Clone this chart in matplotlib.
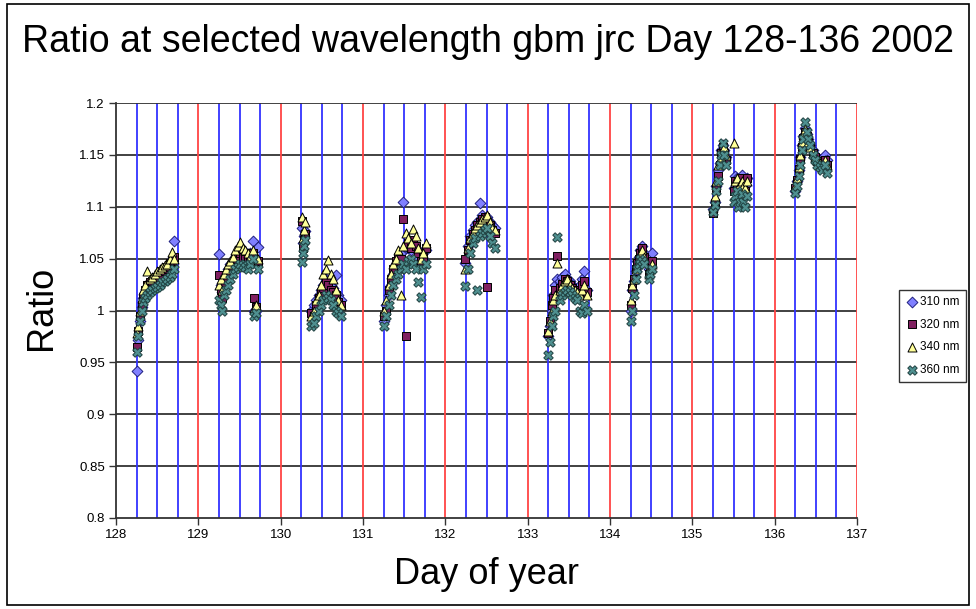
import matplotlib
matplotlib.use("Agg")
import matplotlib.pyplot as plt
from matplotlib.patches import Rectangle

plt.rcParams['font.family'] = ['Liberation Sans', 'DejaVu Sans']

# ---------------- data ----------------
day_128 = [128.25, 128.27, 128.29, 128.31, 128.33, 128.35, 128.38, 128.41, 128.44, 128.47,
           128.50, 128.53, 128.56, 128.59, 128.62, 128.65, 128.68, 128.71]
day_129 = [129.25, 129.27, 129.29, 129.31, 129.33, 129.36, 129.39, 129.42, 129.45, 129.48,
           129.51, 129.54, 129.57, 129.60, 129.63, 129.66, 129.68, 129.70, 129.72]
day_130 = [130.26, 130.27, 130.28, 130.29, 130.37, 130.40, 130.43, 130.46, 130.49, 130.52,
           130.55, 130.58, 130.61, 130.64, 130.67, 130.70, 130.73]
day_131 = [131.25, 131.28, 131.31, 131.34, 131.37, 131.40, 131.43, 131.46, 131.49, 131.52,
           131.55, 131.58, 131.61, 131.64, 131.67, 131.70, 131.73, 131.76]
day_132 = [132.24, 132.27, 132.30, 132.33, 132.36, 132.39, 132.42, 132.45, 132.48, 132.51,
           132.54, 132.57, 132.60]
day_133 = [133.25, 133.27, 133.29, 133.31, 133.33, 133.36, 133.39, 133.42, 133.45, 133.48,
           133.51, 133.54, 133.57, 133.60, 133.63, 133.66, 133.69, 133.72]
day_134 = [134.25, 134.27, 134.29, 134.31, 134.33, 134.35, 134.37, 134.39, 134.41, 134.47,
           134.49, 134.51]
day_135 = [135.25, 135.27, 135.29, 135.31, 135.33, 135.35, 135.37, 135.39, 135.41, 135.50,
           135.52, 135.54, 135.56, 135.58, 135.60, 135.62, 135.64, 135.66]
day_136 = [136.25, 136.27, 136.29, 136.31, 136.33, 136.35, 136.37, 136.39, 136.41, 136.43,
           136.46, 136.49, 136.52, 136.55, 136.58, 136.61, 136.64]
day_of_year = day_128 + day_129 + day_130 + day_131 + day_132 + day_133 + day_134 + day_135 + day_136

ratio_310 = [
    0.942, 0.972, 0.990, 1.003, 1.012, 1.018, 1.022, 1.024, 1.026, 1.028, 1.030, 1.032, 1.035, 1.038, 1.040, 1.045, 1.050, 1.067,
    1.054, 1.025, 1.018, 1.028, 1.035, 1.040, 1.045, 1.048, 1.052, 1.055, 1.060, 1.058, 1.055, 1.050, 1.055, 1.067, 1.000, 1.000, 1.061,
    1.080, 1.065, 1.072, 1.077, 1.000, 1.005, 1.010, 1.015, 1.020, 1.025, 1.030, 1.028, 1.025, 1.022, 1.034, 1.015, 1.010,
    0.990, 1.005, 1.015, 1.025, 1.035, 1.045, 1.050, 1.055, 1.105, 1.060, 1.060, 1.058, 1.065, 1.060, 1.050, 1.045, 1.050, 1.058,
    1.046, 1.062, 1.072, 1.078, 1.082, 1.085, 1.104, 1.092, 1.088, 1.090, 1.085, 1.082, 1.080,
    0.975, 0.985, 1.000, 1.015, 1.025, 1.030, 1.028, 1.032, 1.035, 1.030, 1.028, 1.025, 1.022, 1.020, 1.025, 1.030, 1.038, 1.020,
    1.000, 1.020, 1.028, 1.038, 1.048, 1.052, 1.058, 1.062, 1.055, 1.040, 1.045, 1.055,
    1.098, 1.105, 1.120, 1.135, 1.142, 1.155, 1.160, 1.155, 1.148, 1.118, 1.130, 1.128, 1.120, 1.125, 1.131, 1.125, 1.120, 1.128,
    1.115, 1.125, 1.135, 1.148, 1.160, 1.168, 1.176, 1.170, 1.165, 1.160, 1.155, 1.150, 1.148, 1.145, 1.142, 1.150, 1.145,
]
ratio_320 = [
    0.965, 0.980, 0.995, 1.005, 1.013, 1.020, 1.025, 1.027, 1.028, 1.030, 1.032, 1.035, 1.038, 1.040, 1.042, 1.046, 1.048, 1.052,
    1.034, 1.020, 1.012, 1.025, 1.030, 1.036, 1.040, 1.045, 1.050, 1.052, 1.055, 1.052, 1.050, 1.048, 1.050, 1.055, 1.012, 1.003, 1.048,
    1.086, 1.060, 1.068, 1.074, 0.998, 0.995, 1.005, 1.012, 1.018, 1.022, 1.028, 1.025, 1.020, 1.018, 1.015, 1.008, 1.005,
    0.995, 1.000, 1.020, 1.030, 1.040, 1.048, 1.052, 1.050, 1.088, 0.975, 1.065, 1.060, 1.068, 1.062, 1.055, 1.048, 1.052, 1.060,
    1.050, 1.058, 1.068, 1.074, 1.078, 1.082, 1.085, 1.088, 1.090, 1.023, 1.082, 1.078, 1.075,
    0.978, 0.990, 1.005, 1.012, 1.020, 1.053, 1.022, 1.026, 1.030, 1.028, 1.025, 1.022, 1.020, 1.018, 1.020, 1.025, 1.028, 1.018,
    1.005, 1.022, 1.030, 1.040, 1.046, 1.050, 1.055, 1.060, 1.052, 1.035, 1.042, 1.048,
    1.094, 1.104, 1.118, 1.130, 1.140, 1.152, 1.158, 1.152, 1.145, 1.115, 1.125, 1.122, 1.115, 1.120, 1.128, 1.122, 1.115, 1.128,
    1.118, 1.126, 1.136, 1.146, 1.158, 1.166, 1.172, 1.168, 1.162, 1.158, 1.152, 1.148, 1.144, 1.140, 1.138, 1.145, 1.140,
]
ratio_340 = [
    0.978, 0.985, 1.000, 1.012, 1.020, 1.025, 1.038, 1.030, 1.032, 1.035, 1.038, 1.040, 1.042, 1.044, 1.045, 1.050, 1.056, 1.050,
    1.025, 1.030, 1.020, 1.035, 1.040, 1.045, 1.048, 1.052, 1.058, 1.062, 1.066, 1.060, 1.058, 1.055, 1.052, 1.058, 1.002, 1.005, 1.050,
    1.090, 1.070, 1.078, 1.085, 0.995, 1.000, 1.010, 1.015, 1.025, 1.035, 1.040, 1.049, 1.035, 1.030, 1.020, 1.010, 1.005,
    1.000, 1.010, 1.025, 1.035, 1.045, 1.050, 1.058, 1.015, 1.062, 1.075, 1.070, 1.065, 1.079, 1.072, 1.060, 1.050, 1.055, 1.065,
    1.040, 1.060, 1.070, 1.075, 1.080, 1.082, 1.085, 1.088, 1.090, 1.092, 1.085, 1.080, 1.078,
    0.980, 0.990, 1.000, 1.010, 1.015, 1.046, 1.020, 1.025, 1.028, 1.030, 1.025, 1.022, 1.020, 1.018, 1.015, 1.020, 1.025, 1.015,
    1.010, 1.025, 1.030, 1.040, 1.045, 1.050, 1.055, 1.058, 1.052, 1.035, 1.040, 1.045,
    1.100, 1.110, 1.125, 1.140, 1.145, 1.148, 1.155, 1.158, 1.150, 1.161, 1.125, 1.128, 1.118, 1.122, 1.125, 1.120, 1.118, 1.125,
    1.120, 1.128, 1.138, 1.150, 1.162, 1.170, 1.175, 1.168, 1.162, 1.158, 1.152, 1.148, 1.145, 1.142, 1.140, 1.145, 1.140,
]
ratio_360 = [
    0.960, 0.975, 0.990, 1.000, 1.008, 1.012, 1.015, 1.018, 1.020, 1.022, 1.023, 1.025, 1.027, 1.028, 1.030, 1.032, 1.035, 1.040,
    1.010, 1.005, 1.000, 1.015, 1.020, 1.025, 1.030, 1.035, 1.040, 1.042, 1.045, 1.044, 1.042, 1.040, 1.045, 1.050, 0.995, 0.998, 1.040,
    1.047, 1.055, 1.062, 1.068, 0.985, 0.988, 0.995, 1.000, 1.005, 1.010, 1.015, 1.012, 1.010, 1.005, 1.000, 0.998, 0.995,
    0.985, 0.995, 1.005, 1.015, 1.025, 1.030, 1.035, 1.040, 1.045, 1.040, 1.048, 1.050, 1.045, 1.040, 1.027, 1.013, 1.040, 1.045,
    1.024, 1.040, 1.055, 1.065, 1.070, 1.020, 1.072, 1.075, 1.078, 1.080, 1.072, 1.065, 1.060,
    0.957, 0.970, 0.985, 0.995, 1.000, 1.071, 1.010, 1.015, 1.018, 1.020, 1.018, 1.015, 1.012, 1.010, 1.000, 0.998, 1.005, 1.000,
    0.990, 1.000, 1.015, 1.030, 1.040, 1.045, 1.050, 1.048, 1.045, 1.030, 1.035, 1.040,
    1.095, 1.102, 1.115, 1.125, 1.140, 1.150, 1.161, 1.150, 1.140, 1.105, 1.110, 1.115, 1.100, 1.105, 1.112, 1.105, 1.100, 1.110,
    1.113, 1.120, 1.130, 1.140, 1.155, 1.165, 1.182, 1.172, 1.165, 1.160, 1.150, 1.145, 1.140, 1.138, 1.135, 1.140, 1.133,
]

series_labels = ["310 nm", "320 nm", "340 nm", "360 nm"]
x_ticks = [128, 129, 130, 131, 132, 133, 134, 135, 136, 137]
y_ticks = [0.8, 0.85, 0.9, 0.95, 1.0, 1.05, 1.1, 1.15, 1.2]
y_tick_labels = ["0.8", "0.85", "0.9", "0.95", "1", "1.05", "1.1", "1.15", "1.2"]

# ---------------- figure ----------------
W, H = 976, 609
fig = plt.figure(figsize=(W / 100, H / 100), dpi=100)
fig.patch.set_facecolor("white")

# outer chart border
fig.add_artist(Rectangle((7 / W, 4 / H), (W - 14) / W, (H - 8) / H, transform=fig.transFigure,
                         fill=False, edgecolor="black", linewidth=1.2))

ax = fig.add_axes([116 / W, 1 - 518 / H, (857 - 116) / W, (518 - 103) / H])
ax.set_xlim(128, 137)
ax.set_ylim(0.8, 1.2)

# grid lines: horizontal at major y ticks, vertical quarter-day lines
for yv in y_ticks[1:-1]:
    ax.axhline(yv, color="#333333", lw=1.3, zorder=1)
for d in range(128, 137):
    for q in (0.25, 0.5, 0.75):
        ax.axvline(d + q, color="#3333ff", lw=1.3, zorder=1)
    if d > 128:
        ax.axvline(d, color="#ff4444", lw=1.3, zorder=1)
ax.axvline(137, color="#ff4444", lw=1.3, zorder=1)
ax.axhline(1.2, color="#333333", lw=1.3, zorder=1)

styles = [
    dict(marker="D", s=30, facecolor="#8080ff", edgecolor="#202080"),
    dict(marker="s", s=30, facecolor="#802060", edgecolor="#000000"),
    dict(marker="^", s=42, facecolor="#ffff99", edgecolor="#000000"),
    dict(marker="X", s=46, facecolor="#4f9090", edgecolor="#1f4040"),
]
for vals, lab, st in zip([ratio_310, ratio_320, ratio_340, ratio_360], series_labels, styles):
    ax.scatter(day_of_year, vals, marker=st["marker"], s=st["s"], facecolor=st["facecolor"],
               edgecolor=st["edgecolor"], linewidths=0.7, label=lab, zorder=3)

ax.set_xticks(x_ticks)
ax.set_xticklabels([str(t) for t in x_ticks])
ax.set_yticks(y_ticks)
ax.set_yticklabels(y_tick_labels)
ax.tick_params(axis="both", direction="out", length=5, width=1, color="#333333",
               labelsize=9.5, pad=3)
for side in ("top", "right"):
    ax.spines[side].set_visible(False)
for side in ("left", "bottom"):
    ax.spines[side].set_color("#333333")
    ax.spines[side].set_linewidth(1.3)

fig.text(488 / W, 1 - 42 / H, "Ratio at selected wavelength gbm jrc Day 128-136 2002",
         ha="center", va="center", fontsize=27)
fig.text(42 / W, 1 - 308 / H, "Ratio", ha="center", va="center", rotation=90, fontsize=26)
fig.text(486 / W, 1 - 575 / H, "Day of year", ha="center", va="center", fontsize=26)

leg = fig.legend(loc="upper left", bbox_to_anchor=(899 / W, 1 - 290 / H), frameon=True,
                 fancybox=False, edgecolor="black", fontsize=8.5, handletextpad=0.1,
                 handlelength=1.2, borderpad=0.5, labelspacing=0.9, borderaxespad=0)
leg.get_frame().set_linewidth(1.0)

fig.savefig("out.png", dpi=100)
